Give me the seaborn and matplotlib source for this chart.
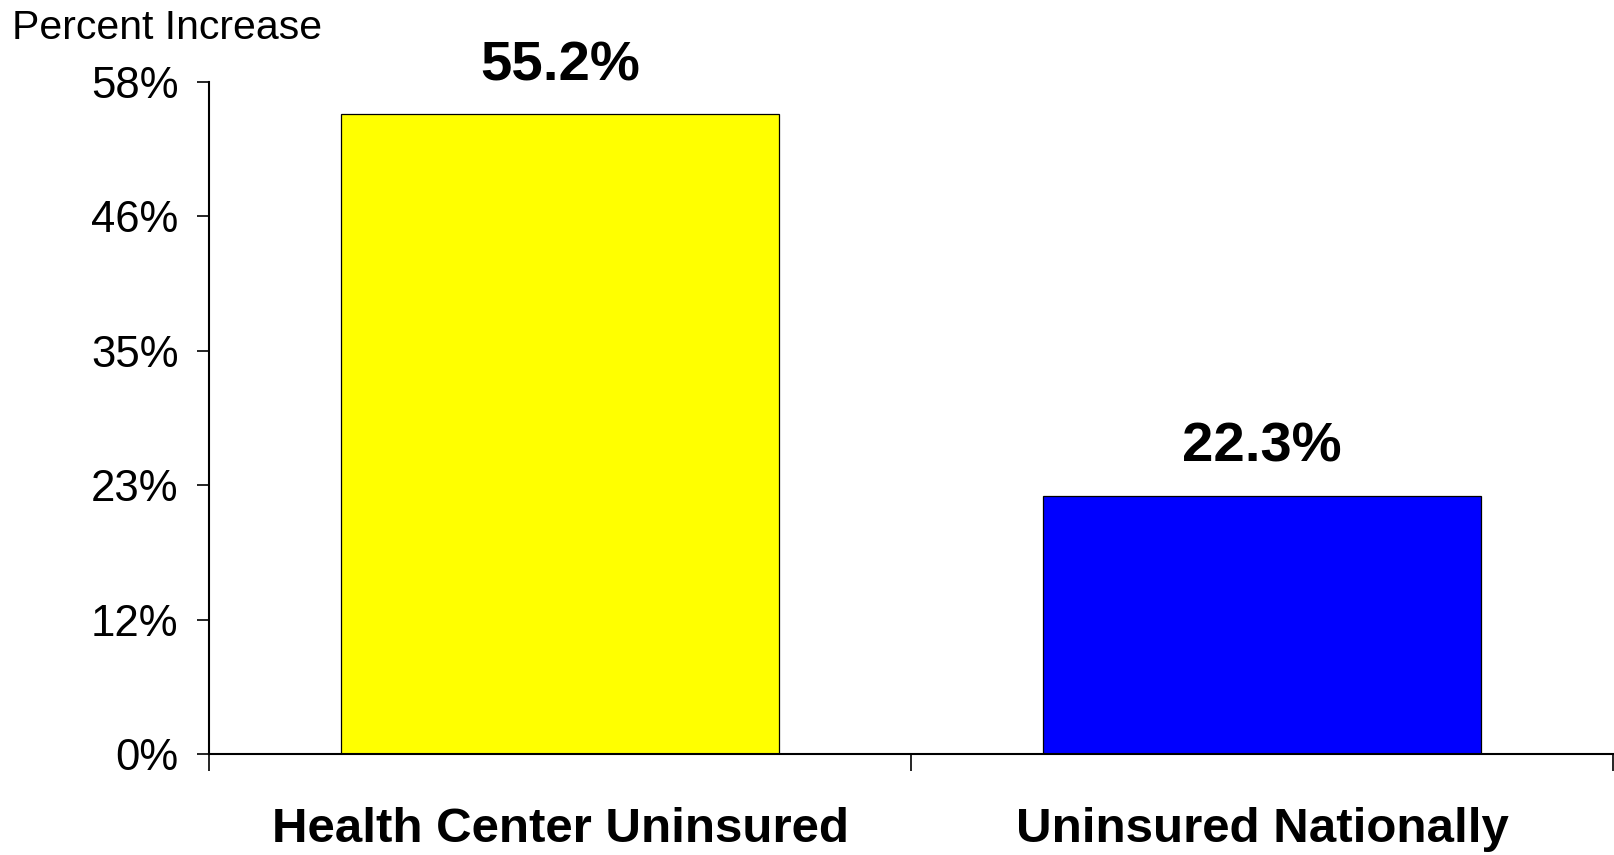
import matplotlib
matplotlib.use("Agg")
import matplotlib.pyplot as plt
import seaborn as sns
import pandas as pd
from matplotlib.ticker import FixedLocator

categories = ["Health Center Uninsured", "Uninsured Nationally"]
values = [55.2, 22.3]
value_labels = ["55.2%", "22.3%"]
bar_colors = ["#FFFF00", "#0000FF"]
ytick_values = [0, 11.6, 23.2, 34.8, 46.4, 58]
ytick_labels = ["0%", "12%", "23%", "35%", "46%", "58%"]
y_title = "Percent Increase"

sns.set_style("white")
plt.rcParams["font.family"] = ["Liberation Sans", "DejaVu Sans"]
plt.rcParams["text.color"] = "black"
plt.rcParams["xtick.color"] = "black"
plt.rcParams["ytick.color"] = "black"
plt.rcParams["axes.labelcolor"] = "black"

df = pd.DataFrame({"cat": categories, "val": values})

fig = plt.figure(figsize=(16.15, 8.55), dpi=100)
ax = fig.add_axes([209 / 1615, 1 - 754 / 855, 1404 / 1615, (754 - 82) / 855])

sns.barplot(data=df, x="cat", y="val", hue="cat", palette=bar_colors,
            legend=False, width=0.624, edgecolor="black", linewidth=0.9,
            saturation=1, ax=ax)

ax.set_xlim(-0.5, 1.5)
ax.set_ylim(0, 58)
ax.set_yticks(ytick_values)
ax.set_yticklabels(ytick_labels, fontsize=31.5, color="black")
ax.set_xlabel("")
ax.set_ylabel("")

ax.set_xticks(range(len(categories)))
ax.set_xticklabels(categories, fontsize=35.5, fontweight="bold", color="black")
ax.xaxis.set_minor_locator(FixedLocator([-0.5, 0.5, 1.5]))
ax.tick_params(axis="x", which="major", length=0, pad=38)
ax.tick_params(axis="x", which="minor", length=12, width=1.2, direction="out",
               bottom=True, color="black")
ax.tick_params(axis="y", which="major", length=9, width=1.2, direction="out",
               left=True, pad=13, color="black")

for side in ["top", "right"]:
    ax.spines[side].set_visible(False)
for side in ["left", "bottom"]:
    ax.spines[side].set_color("black")
    ax.spines[side].set_linewidth(1.5)

for i, (v, lab) in enumerate(zip(values, value_labels)):
    ax.annotate(lab, xy=(i, v), xytext=(0, 24.5), textcoords="offset points",
                ha="center", va="baseline", fontsize=40.5, fontweight="bold",
                color="black")

fig.text(12 / 1615, 1 - 39 / 855, y_title, fontsize=29.5, ha="left",
         va="baseline", color="black")

fig.savefig("out.png", dpi=100, facecolor="white")
